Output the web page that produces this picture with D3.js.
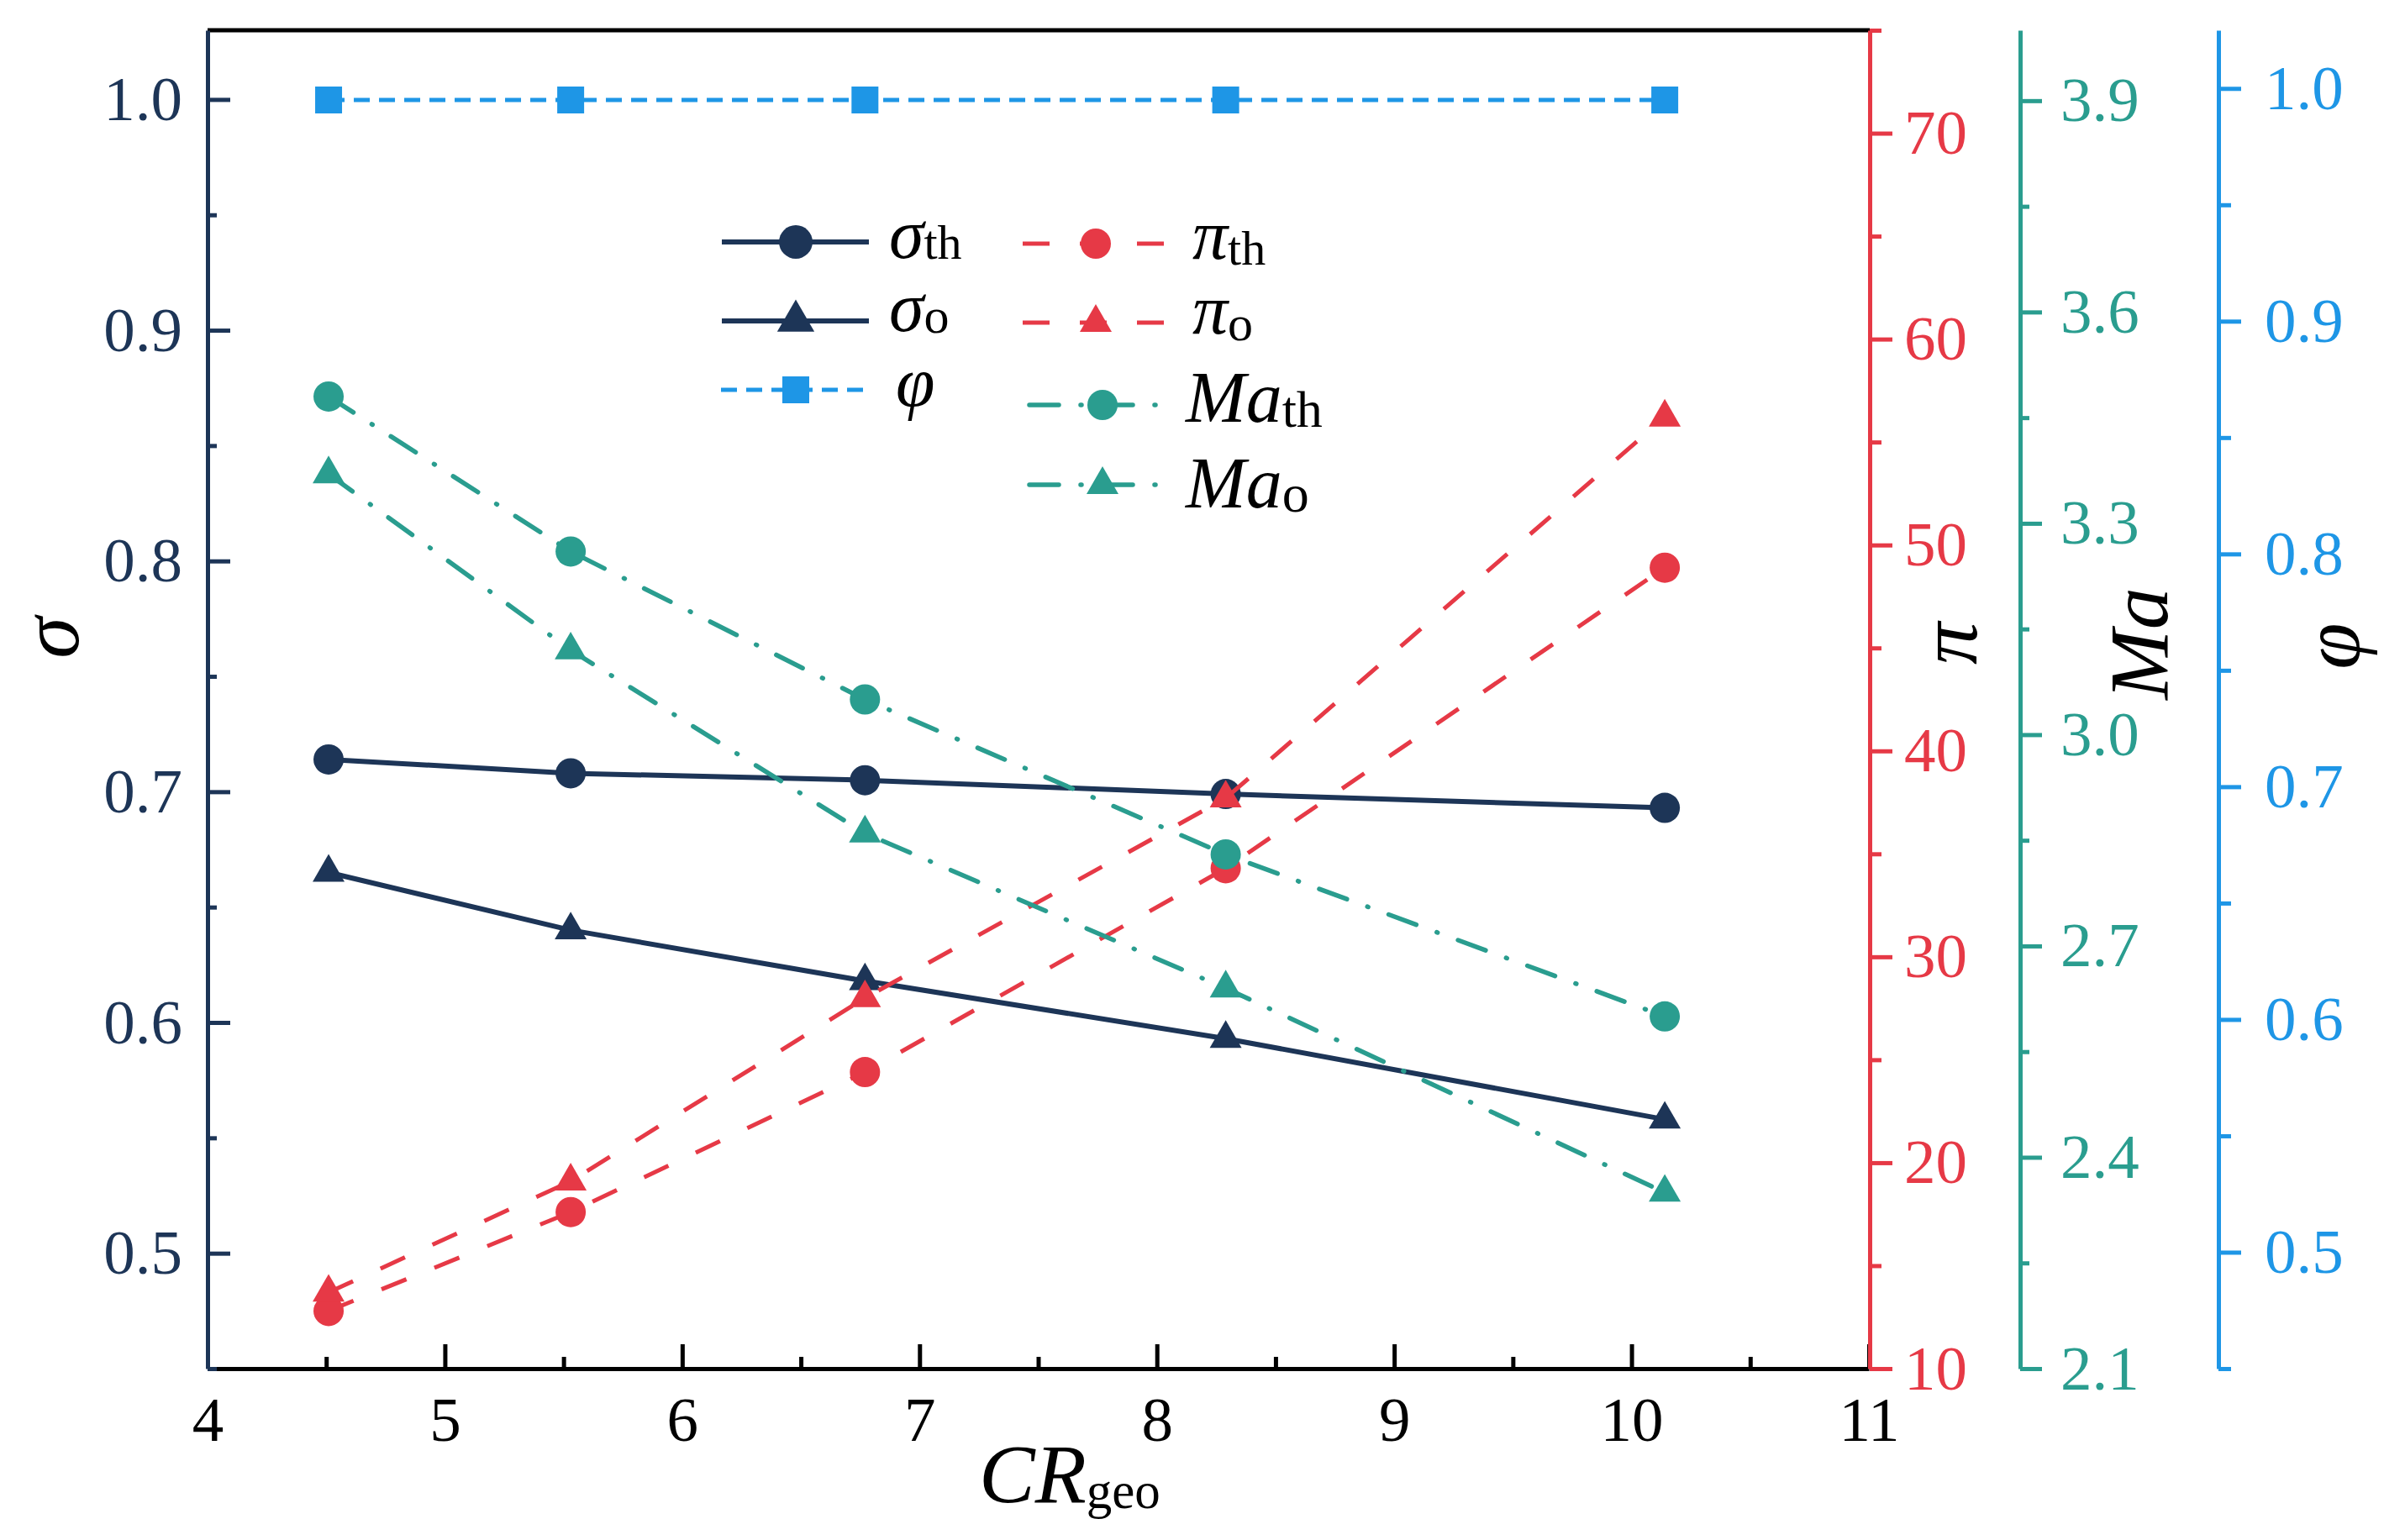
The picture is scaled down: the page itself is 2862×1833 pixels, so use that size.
<!DOCTYPE html>
<html>
<head>
<meta charset="utf-8">
<script src="https://cdn.jsdelivr.net/npm/d3@7"></script>
<style>
  html, body { margin: 0; padding: 0; background: #fff; }
  svg { display: block; }
  text { font-family: "Liberation Serif", "Times New Roman", serif; }
</style>
</head>
<body>
<div id="chart"></div>
<script>
// values
const crGeo   = [4.51, 5.53, 6.77, 8.29, 10.14];
const sigmaTh = [0.714, 0.708, 0.705, 0.699, 0.693];
const sigmaO  = [0.665, 0.640, 0.618, 0.593, 0.558];
const piTh    = [12.8, 17.6, 24.4, 34.3, 48.9];
const piO     = [13.7, 19.1, 28.0, 37.7, 56.2];
const maTh    = [3.48, 3.26, 3.05, 2.83, 2.60];
const maO     = [3.37, 3.12, 2.86, 2.64, 2.35];
const phi     = [0.995, 0.995, 0.995, 0.995, 0.995];

const xTicks     = [4, 5, 6, 7, 8, 9, 10, 11];
const sigmaTicks = [0.5, 0.6, 0.7, 0.8, 0.9, 1.0];
const piTicks    = [10, 20, 30, 40, 50, 60, 70];
const maTicks    = [2.1, 2.4, 2.7, 3.0, 3.3, 3.6, 3.9];
const phiTicks   = [0.5, 0.6, 0.7, 0.8, 0.9, 1.0];

const NAVY = "#1d3557", RED = "#e63946", TEAL = "#2a9d8f", BLUE = "#1e96e6";

const W = 2862, H = 1833;
const plotTop = 36, plotBottom = 1629, plotLeft = 247, plotRight = 2224;

const svg = d3.select("#chart").append("svg")
  .attr("width", W)
  .attr("height", H);
svg.append("rect").attr("width", W).attr("height", H).attr("fill", "#fff");

const x    = d3.scaleLinear().domain([4, 11]).range([plotLeft, plotRight]);
const yS   = d3.scaleLinear().domain([0.45, 1.03]).range([plotBottom, plotTop]);
const yPi  = d3.scaleLinear().domain([10, 75]).range([plotBottom, plotTop]);
const yMa  = d3.scaleLinear().domain([2.1, 4.0]).range([plotBottom, plotTop]);
const yPhi = d3.scaleLinear().domain([0.45, 1.025]).range([plotBottom, plotTop]);

// minor ticks: midpoints between majors, inside the domain
function minors(ticks, scale) {
  const step = ticks[1] - ticks[0];
  const [a, b] = scale.domain();
  const out = [];
  for (let v = ticks[0] - step / 2; v <= b + 1e-9; v += step) {
    if (v >= a - 1e-9) out.push(+v.toFixed(4));
  }
  return out;
}

function drawAxis(g, major, minor, color, fmt, pad, majLen, minLen) {
  g.call(major.tickSize(majLen).tickSizeOuter(0).tickPadding(pad).tickFormat(fmt));
  g.select(".domain").attr("stroke", color).attr("stroke-width", 5);
  g.selectAll(".tick line").attr("stroke", color).attr("stroke-width", 5);
  g.selectAll(".tick text")
    .attr("fill", color)
    .attr("font-size", 75)
    .attr("font-family", "Liberation Serif, serif");
  const m = g.append("g").call(minor.tickSize(minLen).tickSizeOuter(0).tickFormat(""));
  m.select(".domain").remove();
  m.selectAll(".tick line").attr("stroke", color).attr("stroke-width", 5);
}

// top frame line
svg.append("line")
  .attr("x1", plotLeft).attr("x2", 2225).attr("y1", plotTop).attr("y2", plotTop)
  .attr("stroke", "#000").attr("stroke-width", 5);

// bottom x axis
drawAxis(svg.append("g").attr("transform", `translate(0,${plotBottom})`),
  d3.axisBottom(x).tickValues(xTicks),
  d3.axisBottom(x).tickValues(minors(xTicks, x)),
  "#000", d3.format("d"), 33, -29, -14);

// left sigma axis
drawAxis(svg.append("g").attr("transform", `translate(${plotLeft},0)`),
  d3.axisLeft(yS).tickValues(sigmaTicks),
  d3.axisLeft(yS).tickValues(minors(sigmaTicks, yS)),
  NAVY, d3.format(".1f"), 30, -27, -11);

// right axes
drawAxis(svg.append("g").attr("transform", "translate(2225,0)"),
  d3.axisRight(yPi).tickValues(piTicks),
  d3.axisRight(yPi).tickValues(minors(piTicks, yPi)),
  RED, d3.format("d"), 14, 27, 14);

drawAxis(svg.append("g").attr("transform", "translate(2404,0)"),
  d3.axisRight(yMa).tickValues(maTicks),
  d3.axisRight(yMa).tickValues(minors(maTicks, yMa)),
  TEAL, d3.format(".1f"), 22, 26, 11);

drawAxis(svg.append("g").attr("transform", "translate(2640,0)"),
  d3.axisRight(yPhi).tickValues(phiTicks),
  d3.axisRight(yPhi).tickValues(minors(phiTicks, yPhi)),
  BLUE, d3.format(".1f"), 28, 27, 15);

// axis titles
function vTitle(txt, tx, ty) {
  svg.append("text")
    .attr("transform", `translate(${tx},${ty}) rotate(-90)`)
    .attr("text-anchor", "middle")
    .attr("font-size", 100)
    .attr("font-style", "italic")
    .attr("fill", "#000")
    .text(txt);
}
vTitle("σ", 93, 759);
vTitle("π", 2352, 766);
vTitle("Ma", 2579, 766);
vTitle("φ", 2808, 769);

const xt = svg.append("text")
  .attr("x", 1165).attr("y", 1788)
  .attr("fill", "#000");
xt.append("tspan").attr("font-size", 100).attr("font-style", "italic").text("CR");
xt.append("tspan").attr("font-size", 61).attr("dy", 7).text("geo");

// series
const styles = {
  sigma: { color: NAVY, dash: null, width: 6, cap: "butt" },
  pi:    { color: RED, dash: "32,36", width: 5, cap: "butt" },
  ma:    { color: TEAL, dash: "35,26,1,26", width: 5.5, cap: "round" },
  phi:   { color: BLUE, dash: "19,11", width: 5, cap: "butt" }
};

const circle = d3.symbol().type(d3.symbolCircle).size(1018);
const tri = d3.symbol().type(d3.symbolTriangle).size(625);
const square = d3.symbol().type(d3.symbolSquare).size(1024);

const series = [
  { vals: sigmaTh, y: yS,   st: styles.sigma, sym: circle },
  { vals: sigmaO,  y: yS,   st: styles.sigma, sym: tri },
  { vals: piTh,    y: yPi,  st: styles.pi,    sym: circle },
  { vals: piO,     y: yPi,  st: styles.pi,    sym: tri },
  { vals: maTh,    y: yMa,  st: styles.ma,    sym: circle },
  { vals: maO,     y: yMa,  st: styles.ma,    sym: tri },
  { vals: phi,     y: yPhi, st: styles.phi,   sym: square }
];

series.forEach(s => {
  const pts = s.vals.map((v, i) => [crGeo[i], v]);
  const line = d3.line().x(d => x(d[0])).y(d => s.y(d[1]));
  svg.append("path")
    .attr("d", line(pts))
    .attr("fill", "none")
    .attr("stroke", s.st.color)
    .attr("stroke-width", s.st.width)
    .attr("stroke-linecap", s.st.cap)
    .attr("stroke-dasharray", s.st.dash);
  svg.selectAll(null).data(pts).enter().append("path")
    .attr("transform", d => `translate(${x(d[0])},${s.y(d[1])})`)
    .attr("d", s.sym)
    .attr("fill", s.st.color);
});

// legend
const bigCircle = d3.symbol().type(d3.symbolCircle).size(1250);
const bigTri = d3.symbol().type(d3.symbolTriangle).size(850);
const legend = [
  { st: styles.sigma, sym: bigCircle, x0: 859,  x1: 1034, mx: 947,  y: 288, lx: 1058, ly: 307, main: "σ",  sub: "th", fs: 84, sfs: 58, sdy: 1 },
  { st: styles.sigma, sym: bigTri,    x0: 859,  x1: 1034, mx: 947,  y: 382, lx: 1058, ly: 394, main: "σ",  sub: "o",  fs: 84, sfs: 60, sdy: 2 },
  { st: styles.phi,   sym: square,    x0: 858,  x1: 1034, mx: 947,  y: 464, lx: 1066, ly: 483, main: "φ",  sub: "",   fs: 84, sfs: 58, sdy: 0 },
  { st: styles.pi,    sym: circle,    x0: 1217, x1: 1390, mx: 1304, y: 290, lx: 1419, ly: 308, main: "π",  sub: "th", fs: 84, sfs: 58, sdy: 7 },
  { st: styles.pi,    sym: tri,       x0: 1217, x1: 1390, mx: 1304, y: 384, lx: 1419, ly: 397, main: "π",  sub: "o",  fs: 84, sfs: 60, sdy: 8 },
  { st: styles.ma,    sym: circle,    x0: 1225, x1: 1380, mx: 1312, y: 482, lx: 1411, ly: 502, main: "Ma", sub: "th", fs: 86, sfs: 62, sdy: 6 },
  { st: styles.ma,    sym: tri,       x0: 1225, x1: 1380, mx: 1312, y: 577, lx: 1411, ly: 604, main: "Ma", sub: "o",  fs: 86, sfs: 64, sdy: 5 }
];

legend.forEach(l => {
  svg.append("line")
    .attr("x1", l.x0).attr("x2", l.x1).attr("y1", l.y).attr("y2", l.y)
    .attr("stroke", l.st.color)
    .attr("stroke-width", l.st.width)
    .attr("stroke-linecap", l.st.cap)
    .attr("stroke-dasharray", l.st.dash);
  svg.append("path")
    .attr("transform", `translate(${l.mx},${l.y})`)
    .attr("d", l.sym)
    .attr("fill", l.st.color);
  const t = svg.append("text").attr("x", l.lx).attr("y", l.ly).attr("fill", "#000");
  t.append("tspan").attr("font-size", l.fs).attr("font-style", "italic").text(l.main);
  if (l.sub) t.append("tspan").attr("font-size", l.sfs).attr("dy", l.sdy).text(l.sub);
});
</script>
</body>
</html>
